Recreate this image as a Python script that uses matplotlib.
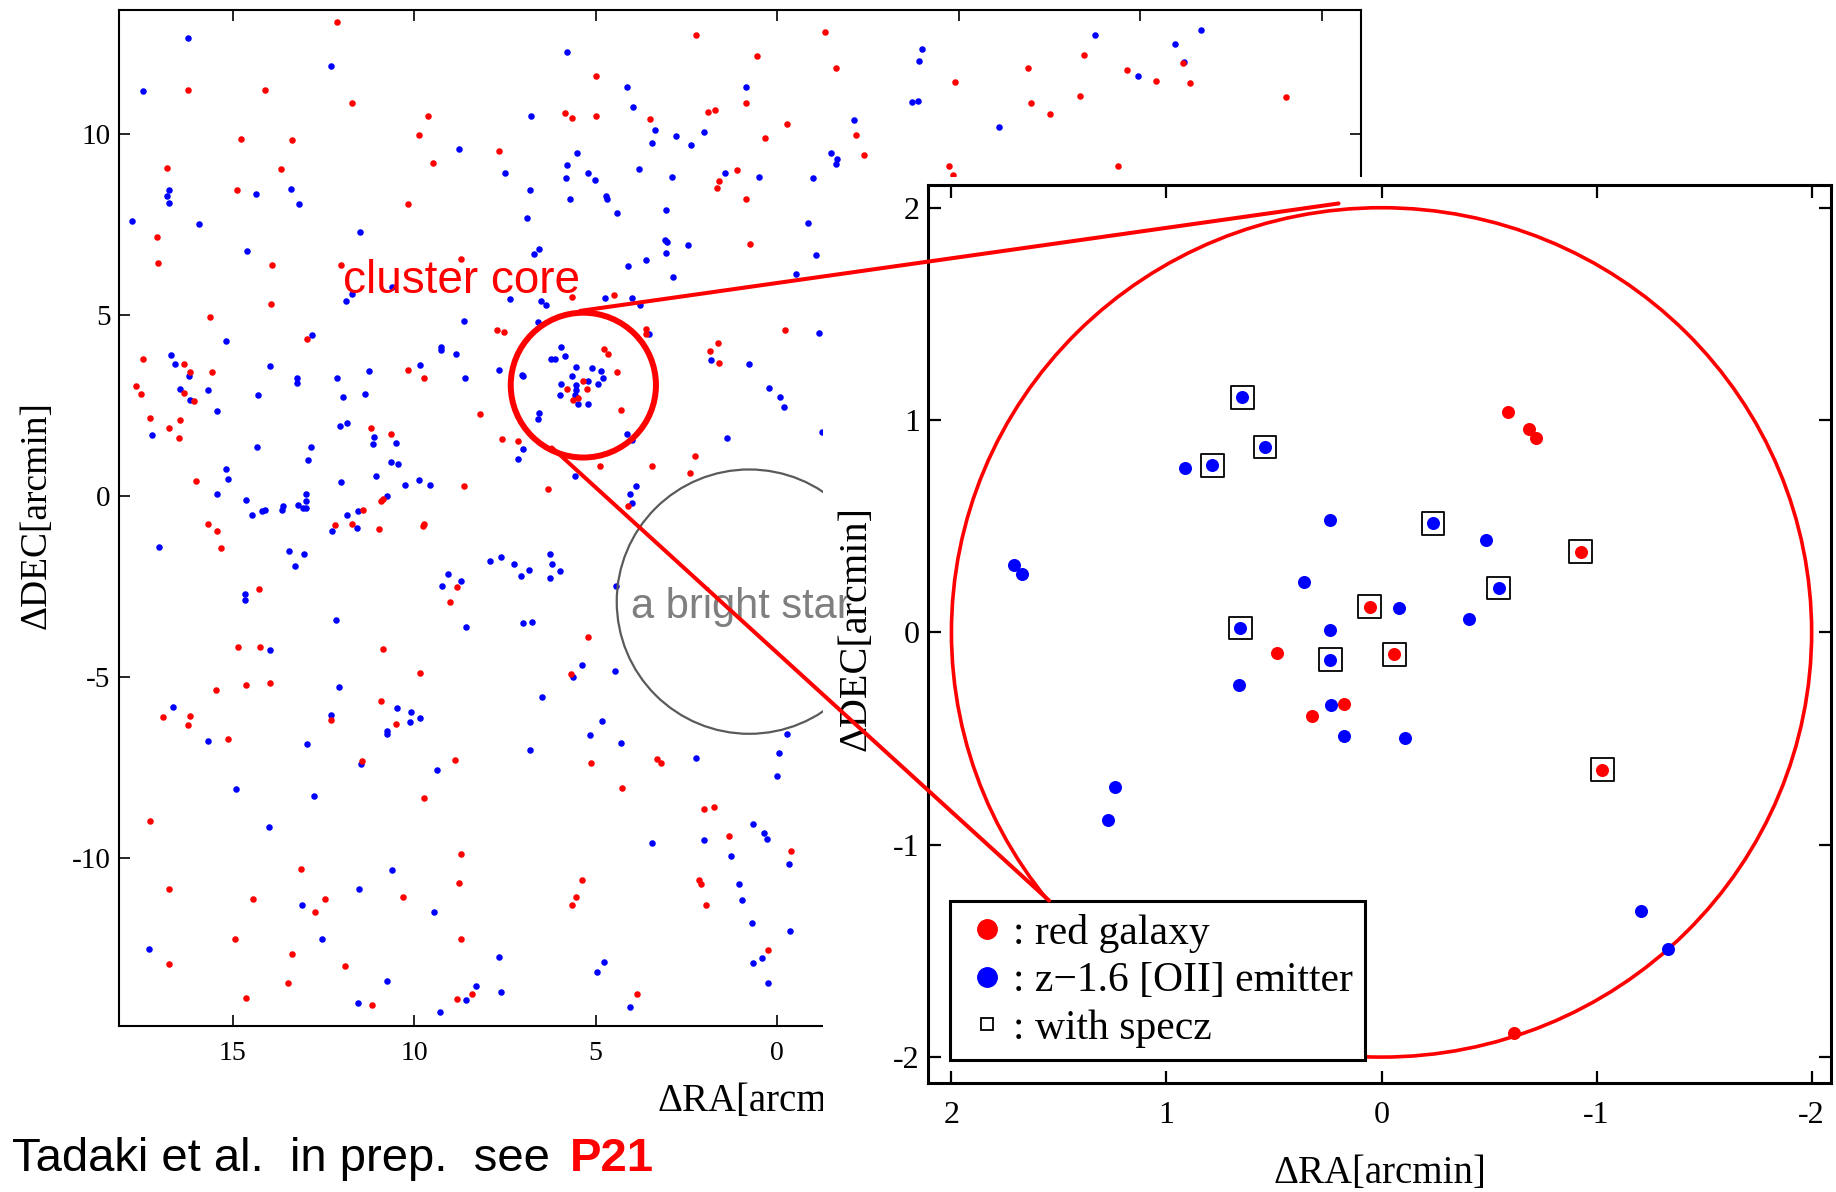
import matplotlib
matplotlib.use("Agg")
import matplotlib.pyplot as plt
from matplotlib.patches import Circle, Rectangle, ConnectionPatch
from matplotlib.lines import Line2D
from matplotlib.transforms import Bbox, TransformedBbox

plt.rcParams["font.family"] = ["Liberation Serif", "DejaVu Serif"]
plt.rcParams["axes.unicode_minus"] = False
SANS = ["Liberation Sans", "DejaVu Sans"]

# ---------------- wide field: red galaxies (RA, DEC offsets in arcmin) ----------------
red_ra = [
    12.13, 16.24, 14.10, 11.70, 9.61, 14.78, 13.36, 9.86, 16.80, 13.66, 9.48, 14.89, 10.18,
    17.09, 17.06, 13.91, 12.01, 8.71, 13.95, 15.63, 12.95,
    2.24, -1.33, 0.56, -1.63, 4.99, 0.87, 5.85, 5.65, 4.99, 1.90, 1.71, 3.51, -0.26, 0.34,
    7.67, 1.12, 1.60, 1.67, 0.87, 0.76, 5.65, 4.49, 7.72, 7.52, 3.62, 3.62, -0.22,
    17.46, 16.33, 16.17, 15.58, 17.66, 17.53, 16.34, 16.06, 17.27, 16.75, 16.44, 16.47,
    10.17, 9.72, 11.19, 10.63, 16.01, 8.63, 10.85, 10.90, 11.40, 11.71, 10.97, 12.17, 9.73,
    9.77, 15.68, 15.44, 15.32, 8.83, 9.02, 14.27, 14.84, 14.25, 10.87, 9.84,
    4.76, 4.67, 1.63, 1.86, 1.59, 5.35, 5.79, 5.24, 5.49, 5.63, 4.42, 4.31, 8.18, 7.58,
    7.14, 2.26, 4.88, 3.44, 2.40, 6.32, 4.12, 5.20, 5.68,
    15.47, 14.64, 13.98, 16.92, 16.17, 16.23, 15.12, 12.29, 10.91, 10.49, 11.45, 8.87,
    9.73, 17.27, 8.70, 13.12, 16.75, 14.44, 12.46, 12.72, 10.32, 8.76, 14.94, 8.71,
    16.74, 13.36, 11.91, 13.48, 14.62, 11.15, 8.82,
    5.14, 3.31, 3.20, 4.28, 2.03, 1.74, 1.34, -0.37, 5.39, 5.54, 5.66, 2.16, 2.09, 1.96,
    0.24, 8.41, 3.87,
    -2.18, -2.40, -4.91, -4.74, -4.84, -6.92, -6.98, -7.52, -8.34, -8.46, -9.38, -9.64,
    -10.42, -11.19, -11.37, -14.02,
]
red_dec = [
    13.10, 11.23, 11.21, 10.85, 10.50, 9.88, 9.85, 9.98, 9.06, 9.04, 9.21, 8.46, 8.08,
    7.17, 6.43, 6.39, 6.39, 6.54, 5.30, 4.95, 4.33,
    12.73, 12.82, 12.15, 11.84, 11.62, 10.85, 10.59, 10.44, 10.50, 10.62, 10.68, 10.41,
    10.27, 9.89, 9.53, 9.02, 8.70, 8.52, 8.20, 6.97, 5.50, 5.55, 4.58, 4.55, 4.61, 4.47, 4.60,
    3.78, 3.66, 3.43, 3.43, 3.05, 2.82, 2.85, 2.62, 2.16, 1.89, 2.11, 1.61,
    3.50, 3.28, 1.89, 1.73, 0.43, 0.29, -0.07, -0.13, -0.37, -0.76, -0.89, -0.80, -0.77,
    -0.81, -0.76, -0.97, -1.43, -2.50, -2.91, -2.57, -4.17, -4.15, -4.21, -4.88,
    4.08, 3.94, 4.22, 4.01, 3.68, 3.18, 2.95, 2.95, 2.71, 2.65, 3.42, 2.39, 2.26, 1.57,
    1.53, 1.10, 0.83, 0.83, 0.63, 0.20, -0.26, -3.90, -4.91,
    -5.34, -5.20, -5.15, -6.09, -6.08, -6.33, -6.69, -6.17, -5.66, -6.28, -7.31, -7.29,
    -8.34, -8.96, -9.88, -10.30, -10.85, -11.13, -11.13, -11.49, -11.07, -10.67, -12.22,
    -12.23, -12.93, -12.65, -12.97, -13.44, -13.86, -14.06, -13.89,
    -7.37, -7.25, -7.36, -8.05, -8.65, -8.57, -9.38, -9.80, -10.60, -11.07, -11.28, -10.61,
    -10.70, -11.28, -12.54, -13.76, -13.76,
    9.99, 9.42, 11.43, 9.11, 8.88, 11.83, 10.85, 10.57, 11.05, 12.18, 9.11, 11.76,
    11.48, 11.97, 11.42, 11.03,
]

# ---------------- wide field: z~1.6 [OII] emitters ----------------
blue_ra = [
    16.24, 12.29, 17.48, 8.76, 16.75, 16.80, 16.74, 14.36, 13.39, 13.18, 17.78, 15.93, 11.48,
    14.61, 10.62, 11.71, 11.88, 8.62, 15.19, 12.81,
    5.79, 4.15, 0.87, 3.96, 6.79, 3.36, 2.80, 2.03, 3.45, 2.37, 5.51, 7.50, 5.78, 5.82, 5.22,
    5.02, 3.81, 2.91, 1.44, 0.50, -0.99, -1.49, -1.61, -1.64, 6.80, 5.70, 4.72, 4.69, 4.41,
    3.05, 6.89, -0.84, 6.57, 6.71, 3.08, 3.03, 3.07, 2.47, -1.07, 4.11, 3.62, 2.88, -0.52,
    7.35, 6.50, 6.37, 4.75, 4.00, 3.78, 6.58, 3.53, -1.15,
    16.69, 16.58, 16.21, 16.46, 16.17, 15.69, 15.44, 17.21, 13.97, 13.23, 13.23, 14.29,
    12.13, 11.97, 11.24, 11.36, 9.85, 9.27, 9.26, 8.86, 8.61, 12.04, 11.86, 11.11, 11.13,
    10.50, 14.33, 12.83, 12.93, 10.63, 10.44, 15.17, 15.12, 15.44, 14.64, 14.47, 14.19,
    14.10, 13.65, 13.61, 13.21, 13.05, 12.98, 12.98, 12.98, 12.01, 11.05, 10.24, 9.86, 9.56,
    10.75, 11.56, 11.84, 11.58, 12.25, 17.04, 13.46, 13.03, 13.29, 9.06, 9.24, 8.71, 14.67,
    14.66, 12.16, 8.56, 13.98,
    5.95, 1.83, 0.77, 7.65, 7.03, 6.99, 6.23, 6.12, 5.85, 5.54, 5.09, 4.85, 4.80, 4.94, 5.22,
    5.66, 5.96, 5.54, 5.54, 5.98, 5.56, 5.48, 5.20, 6.57, 6.60, 0.23, -0.08, -0.18, -1.24,
    4.13, 4.01, 1.39, 7.00, 7.14, 5.56, 3.89, 4.06, 4.00, 7.91, 7.62, 7.25, 7.05, 6.85,
    6.26, 6.20, 5.97, 6.27, 4.43, 7.00, 6.76, 5.38, 4.46, 5.62,
    12.08, 16.65, 15.68, 12.30, 12.94, 10.48, 10.08, 10.12, 9.83, 10.76, 10.76, 11.47, 9.36,
    14.90, 12.76, 14.00, 10.60, 13.09, 11.51, 9.44, 17.31, 12.54, 10.75, 11.55, 9.28, 8.56,
    6.48, 4.82, 5.17, 4.31, 6.80, 2.23, -0.27, -0.06, 0.01, 0.67, 0.37, 0.29, 2.01, 3.44,
    1.28, -0.33, 1.04, 0.97, 0.69, -0.34, 0.43, 0.68, 0.25, 7.67, 7.62, 8.29, 4.78, 4.97, 4.05,
    -3.99, -3.90, -3.71, -3.87, -2.12, -6.12, -8.75, -9.95, -10.95, -11.21, -11.66,
]
blue_dec = [
    12.67, 11.89, 11.18, 9.58, 8.45, 8.29, 8.11, 8.35, 8.48, 8.06, 7.61, 7.53, 7.31,
    6.78, 5.78, 5.60, 5.39, 4.84, 4.30, 4.45,
    12.28, 11.31, 11.31, 10.76, 10.51, 10.11, 9.96, 10.06, 9.75, 9.69, 9.49, 8.94, 9.15,
    8.80, 8.92, 8.73, 9.05, 8.83, 8.92, 8.83, 8.79, 9.49, 9.19, 9.32, 8.47, 8.20, 8.29, 8.21,
    7.81, 7.92, 7.68, 7.54, 6.82, 6.68, 7.07, 7.01, 6.73, 6.94, 6.67, 6.37, 6.53, 6.05, 6.13,
    5.44, 5.40, 5.29, 5.48, 5.48, 5.28, 4.81, 4.47, 4.52,
    3.89, 3.65, 3.32, 2.96, 2.67, 2.93, 2.35, 1.69, 3.60, 3.27, 3.13, 2.81,
    3.28, 2.74, 3.46, 2.83, 3.62, 4.11, 4.03, 3.92, 3.27, 1.93, 2.02, 1.64, 1.43,
    1.46, 1.37, 1.36, 1.00, 0.94, 0.89, 0.76, 0.48, 0.05, -0.09, -0.51, -0.41,
    -0.37, -0.39, -0.28, -0.23, -0.32, -0.32, -0.13, 0.05, 0.39, 0.55, 0.32, 0.44, 0.32,
    0.01, -0.41, -0.53, -0.88, -0.96, -1.40, -1.50, -1.59, -1.93, -2.15, -2.48, -2.34, -2.69,
    -2.86, -3.41, -3.61, -4.25,
    4.12, 3.77, 3.64, 3.48, 3.36, 3.32, 3.80, 3.80, 3.88, 3.56, 3.54, 3.46, 3.27, 3.11, 3.17,
    3.31, 3.09, 3.07, 2.93, 2.81, 2.79, 2.54, 2.54, 2.31, 2.14, 2.99, 2.73, 2.47, 1.77,
    1.71, 1.56, 1.60, 1.30, 1.04, 0.56, 0.29, 0.05, -0.19, -1.78, -1.69, -1.88, -2.19, -2.04,
    -1.60, -1.88, -2.07, -2.25, -2.48, -3.49, -3.48, -4.65, -4.82, -5.00,
    -5.26, -5.82, -6.76, -6.04, -6.85, -5.85, -5.96, -6.23, -6.12, -6.48, -6.57, -7.40, -7.56,
    -8.09, -8.27, -9.14, -10.31, -11.30, -10.85, -11.49, -12.50, -12.24, -13.38, -13.99,
    -14.23, -13.92,
    -5.53, -6.22, -6.60, -6.82, -7.01, -7.24, -6.56, -7.08, -7.73, -9.06, -9.31, -9.47, -9.48,
    -9.58, -9.93, -10.16, -10.72, -11.14, -11.78, -12.01, -12.75, -12.88, -13.45, -12.72,
    -13.69, -13.53, -12.87, -13.13, -14.10,
    12.34, 12.02, 10.89, 10.91, 10.38, 10.20, 12.74, 11.61, 12.48, 12.00, 12.88,
]

# ---------------- cluster core (offsets from the core centre, arcmin) ----------------
core_red_ra = [-0.926, 0.056, -0.059, -1.027, -0.588, -0.686, -0.719, 0.487, 0.173, 0.323, -0.615]
core_red_dec = [0.381, 0.122, -0.104, -0.647, 1.037, 0.956, 0.917, -0.098, -0.337, -0.392, -1.887]
core_blue_ra = [0.648, 0.542, 0.787, -0.239, -0.544, 0.656, 0.239, 0.913, 0.242, -0.487, 1.710,
                1.671, 0.359, -0.080, -0.408, 0.242, 0.664, 0.236, 0.176, -0.110, 1.240, 1.273,
                -1.207, -1.333]
core_blue_dec = [1.108, 0.873, 0.787, 0.513, 0.209, 0.021, -0.128, 0.776, 0.529, 0.435, 0.316,
                 0.273, 0.239, 0.114, 0.061, 0.009, -0.246, -0.344, -0.490, -0.495, -0.726,
                 -0.883, -1.311, -1.490]
specz_ra = [0.648, 0.542, 0.787, -0.239, -0.544, 0.656, 0.239, -0.926, 0.056, -0.059, -1.027]
specz_dec = [1.108, 0.873, 0.787, 0.513, 0.209, 0.021, -0.128, 0.381, 0.122, -0.104, -0.647]

core_center = (5.34, 3.07)
core_radius = 2.0
star_center = (0.77, -2.91)
star_radius = 3.65

wide_xticks = [-15, -10, -5, 0, 5, 10, 15]
wide_yticks = [-10, -5, 0, 5, 10]
zoom_ticks = [-2, -1, 0, 1, 2]
legend_labels = [": red galaxy", ": z\u22121.6 [OII] emitter", ": with specz"]

RED = "#ff0000"
BLUE = "#0000ff"

W, H, DPI = 1836, 1192, 100
fig = plt.figure(figsize=(W / DPI, H / DPI), dpi=DPI)
fig.patch.set_facecolor("white")


def box(x0, y0, x1, y1):
    """Pixel box measured from the top-left corner -> figure-fraction rect."""
    return [x0 / W, 1 - y1 / H, (x1 - x0) / W, (y1 - y0) / H]


# ---------------- wide-field panel ----------------
ax = fig.add_axes(box(119, 10, 1361, 1026), zorder=0)
ax.set_xlim(18.13, -16.08)
ax.set_ylim(-14.63, 13.43)
ax.scatter(blue_ra, blue_dec, s=22, c=BLUE, linewidths=0, zorder=2)
ax.scatter(red_ra, red_dec, s=22, c=RED, linewidths=0, zorder=2)
ax.add_patch(Circle(star_center, star_radius, fill=False, ec="#5a5a5a", lw=1.6, zorder=3))
ax.add_patch(Circle(core_center, core_radius, fill=False, ec=RED, lw=4.3, zorder=4))
ax.set_xticks(wide_xticks)
ax.set_yticks(wide_yticks)
ax.tick_params(direction="in", top=True, right=True, length=8, width=1.2, labelsize=20)
ax.tick_params(axis="x", pad=11)
ax.tick_params(axis="y", pad=6, labelsize=21)
for sp in ax.spines.values():
    sp.set_linewidth(1.5)
ax.set_xlabel("\u0394RA[arcmin]", fontsize=28)
ax.xaxis.label.set_horizontalalignment("left")
ax.xaxis.set_label_coords(0.4332, -0.056)
ax.set_ylabel("\u0394DEC[arcmin]", fontsize=27)
ax.yaxis.set_label_coords(-0.053, 0.503)

# white band separating the two panels
fig.add_artist(Rectangle((823 / W, 0), 1 - 823 / W, 1 - 177 / H, transform=fig.transFigure,
                         fc="white", ec="none", zorder=1))

star_txt = fig.text(631 / W, 1 - 618 / H, "a bright star", fontsize=30, color="#7f7f7f",
                    family=SANS, va="baseline", zorder=1.5)
star_txt.set_clip_box(TransformedBbox(Bbox([[0, 0], [852 / W, 1]]), fig.transFigure))
star_txt.set_clip_on(True)

fig.text(343 / W, 1 - 293 / H, "cluster core", fontsize=33, color=RED, family=SANS,
         va="baseline", zorder=3)

# ---------------- cluster-core zoom panel ----------------
ax2 = fig.add_axes(box(928, 185, 1831, 1083), zorder=2)
ax2.set_facecolor("white")
ax2.set_xlim(2.109, -2.09)
ax2.set_ylim(-2.122, 2.107)
ax2.add_patch(Circle((0, 0), core_radius, fill=False, ec=RED, lw=2.6, zorder=2))
ax2.scatter(specz_ra, specz_dec, s=270, marker="s", facecolors="none", edgecolors="black",
            linewidths=1.3, zorder=3)
ax2.scatter(core_blue_ra, core_blue_dec, s=88, c=BLUE, linewidths=0, zorder=4)
ax2.scatter(core_red_ra, core_red_dec, s=88, c=RED, linewidths=0, zorder=4)
ax2.set_xticks(zoom_ticks)
ax2.set_yticks(zoom_ticks)
ax2.tick_params(direction="in", top=True, right=True, length=9, width=1.6, labelsize=23)
ax2.tick_params(axis="x", pad=13)
ax2.tick_params(axis="y", pad=6)
for sp in ax2.spines.values():
    sp.set_linewidth(2.2)
ax2.set_xlabel("\u0394RA[arcmin]", fontsize=28)
ax2.xaxis.set_label_coords(0.5006, -0.080)
ax2.set_ylabel("\u0394DEC[arcmin]", fontsize=29)
ax2.yaxis.set_label_coords(-0.0587, 0.506)

handles = [
    Line2D([], [], ls="none", marker="o", ms=14, mfc=RED, mec=RED),
    Line2D([], [], ls="none", marker="o", ms=14, mfc=BLUE, mec=BLUE),
    Line2D([], [], ls="none", marker="s", ms=8, mfc="none", mec="black", mew=1.3),
]
leg = ax2.legend(handles, legend_labels, loc="lower left", bbox_to_anchor=(0.0249, 0.0252),
                 borderaxespad=0, frameon=True, fancybox=False, edgecolor="black",
                 framealpha=1, fontsize=30, handlelength=1.15, handletextpad=0.05,
                 borderpad=0.3, labelspacing=0.22)
leg.get_frame().set_linewidth(2.2)
leg.set_zorder(10)

# connectors from the core circle to the zoom panel
for (xa, ya), (xb, yb) in [((5.43, 5.12), (0.20, 2.02)), ((6.21, 1.35), (1.546, -1.263))]:
    con = ConnectionPatch(xyA=(xa, ya), coordsA="data", axesA=ax,
                          xyB=(xb, yb), coordsB="data", axesB=ax2,
                          color=RED, lw=2.9, zorder=6)
    fig.add_artist(con)

fig.text(12 / W, 1 - 1171 / H, "Tadaki et al.  in prep.  see", fontsize=34, family=SANS,
         va="baseline", zorder=3)
fig.text(570 / W, 1 - 1171 / H, "P21", fontsize=34, family=SANS, weight="bold", color=RED,
         va="baseline", zorder=3)

fig.savefig("out.png", dpi=DPI, facecolor="white")
